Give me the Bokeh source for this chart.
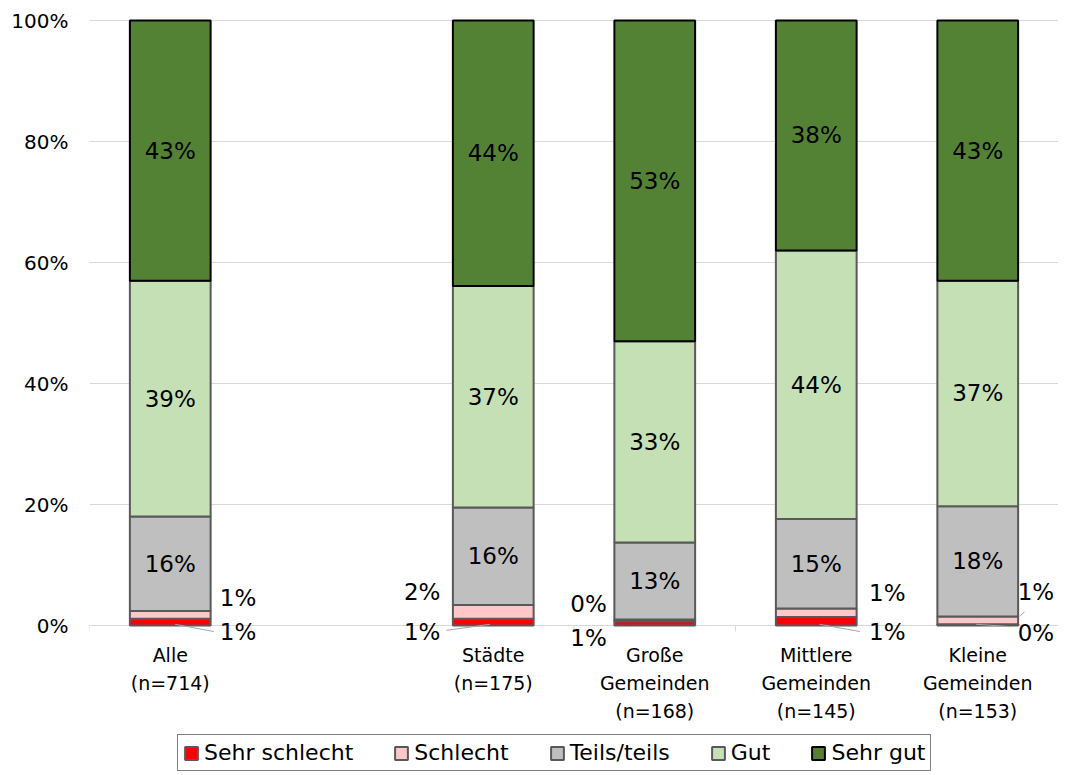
import numpy as np
from bokeh.plotting import figure
from bokeh.models import (ColumnDataSource, FixedTicker, Legend, LegendItem, LabelSet)
from bokeh.core.properties import value
from bokeh.embed import file_html
from bokeh.resources import INLINE

# ---------------- data ----------------
categories = ["Alle\n(n=714)", "Städte\n(n=175)", "Große\nGemeinden\n(n=168)",
              "Mittlere\nGemeinden\n(n=145)", "Kleine\nGemeinden\n(n=153)"]
series = ["Sehr schlecht", "Schlecht", "Teils/teils", "Gut", "Sehr gut"]
sehr_schlecht = [1.1, 1.1, 0.7, 1.4, 0.2]
schlecht = [1.3, 2.3, 0.3, 1.4, 1.3]
teils_teils = [15.6, 16.1, 12.7, 14.8, 18.2]
gut = [39.0, 36.6, 33.3, 44.4, 37.3]
sehr_gut = [43.0, 43.9, 53.0, 38.0, 43.0]
y_ticks = [0, 20, 40, 60, 80, 100]
y_tick_labels = ["0%", "20%", "40%", "60%", "80%", "100%"]

# ---------------- styling / layout ----------------
FONT = "DejaVu Sans"
colors = ["#FF0000", "#FFC7C7", "#BFBFBF", "#C5E0B4", "#548235"]
outline = ["#595959", "#595959", "#595959", "#595959", "#000000"]
slots = [0, 2, 3, 4, 5]          # one empty slot after the first category
bar_width = 0.5
FRAME_W, FRAME_H = 969, 772
PX = 6.05                        # pixels per percentage point
TOP_PAD = 20                     # pixels above the 100% line
y_max = 100 + TOP_PAD / PX
y_min = y_max - FRAME_H / PX

values = [sehr_schlecht, schlecht, teils_teils, gut, sehr_gut]
vals = np.array(values)
tops = np.cumsum(vals, axis=0)
bottoms = tops - vals

p = figure(frame_width=FRAME_W, frame_height=FRAME_H, output_backend="svg",
           toolbar_location=None, x_axis_location=None,
           x_range=(-0.5, 5.5), y_range=(y_min, y_max),
           min_border_left=89, min_border_right=0, min_border_top=0, min_border_bottom=0,
           background_fill_color="white", border_fill_color="white")
p.outline_line_color = None

# category boundary ticks under the baseline
bounds = [-0.5] + [s + 0.5 for s in range(6)]
p.segment(x0=bounds, y0=[0] * len(bounds), x1=bounds, y1=[-6 / PX] * len(bounds),
          line_color="#D9D9D9", line_width=1)

renderers = []
for i, name in enumerate(series):
    src = ColumnDataSource(dict(x=slots, bottom=bottoms[i], top=tops[i]))
    r = p.vbar(x="x", width=bar_width, bottom="bottom", top="top", source=src,
               fill_color=colors[i], line_color=outline[i], line_width=2)
    renderers.append(r)

# inner labels for the big segments
for i in (2, 3, 4):
    src = ColumnDataSource(dict(x=slots, y=(bottoms[i] + tops[i]) / 2,
                                t=[f"{v:.0f}%" for v in values[i]]))
    p.add_layout(LabelSet(x="x", y="y", text="t", source=src,
                          text_font=value(FONT), text_font_size="23px",
                          text_align="center", text_baseline="middle",
                          text_color="black"))

# outside labels for the small segments: (bar, series, label dx, label y)
small_place = [
    (0, 1, 0.42, 4.6), (0, 0, 0.42, -1.0),
    (1, 1, -0.44, 5.6), (1, 0, -0.44, -1.0),
    (2, 1, -0.41, 3.5), (2, 0, -0.41, -2.0),
    (3, 1, 0.44, 5.3), (3, 0, 0.44, -1.0),
    (4, 1, 0.36, 5.5), (4, 0, 0.36, -1.2),
]
p.add_layout(LabelSet(
    x="x", y="y", text="t",
    source=ColumnDataSource(dict(
        x=[slots[b] + dx for b, s, dx, ly in small_place],
        y=[ly for b, s, dx, ly in small_place],
        t=[f"{values[s][b]:.0f}%" for b, s, dx, ly in small_place])),
    text_font=value(FONT), text_font_size="23px",
    text_align="center", text_baseline="middle", text_color="black"))

# leader lines: (bar, x0 offset, y0, x1 offset, y1)
leaders = [
    (0, 0.03, 0.2, 0.27, -1.0),
    (1, -0.02, 0.2, -0.29, -0.8),
    (3, 0.02, 0.2, 0.27, -1.0),
    (4, 0.26, 1.5, 0.29, 2.3),
    (4, -0.01, 0.2, 0.21, -0.2),
]
p.segment(x0=[slots[b] + a for b, a, c, d, e in leaders],
          y0=[c for b, a, c, d, e in leaders],
          x1=[slots[b] + d for b, a, c, d, e in leaders],
          y1=[e for b, a, c, d, e in leaders],
          line_color="#A6A6A6", line_width=1)

# category labels (one text per line) below the baseline
cx, cy, ct = [], [], []
for s, cat in zip(slots, categories):
    for k, line in enumerate(cat.split("\n")):
        cx.append(s)
        cy.append(-(29 + 28 * k) / PX)
        ct.append(line)
p.add_layout(LabelSet(x="x", y="y", text="t",
                      source=ColumnDataSource(dict(x=cx, y=cy, t=ct)),
                      text_font=value(FONT), text_font_size="19px",
                      text_align="center", text_baseline="middle",
                      text_color="black"))

# y axis
p.yaxis.ticker = FixedTicker(ticks=y_ticks)
p.yaxis.major_label_overrides = {t: l for t, l in zip(y_ticks, y_tick_labels)}
p.yaxis.axis_line_color = None
p.yaxis.major_tick_line_color = None
p.yaxis.minor_tick_line_color = None
p.yaxis.major_label_text_font = FONT
p.yaxis.major_label_text_font_size = "20px"
p.yaxis.major_label_text_color = "black"
p.yaxis.major_label_standoff = 15

p.xgrid.grid_line_color = None
p.ygrid.ticker = FixedTicker(ticks=y_ticks)
p.ygrid.grid_line_color = "#D9D9D9"

legend = Legend(items=[LegendItem(label=n, renderers=[r]) for n, r in zip(series, renderers)],
                orientation="horizontal", location=(88, 1),
                label_text_font=FONT, label_text_font_size="22px",
                label_text_color="black", label_height=20,
                glyph_width=16, glyph_height=16, label_standoff=5,
                spacing=40, padding=5, margin=0,
                border_line_color="black", border_line_width=1,
                background_fill_color="white", background_fill_alpha=1)
p.add_layout(legend)

open("out.html", "w").write(file_html(p, INLINE))
